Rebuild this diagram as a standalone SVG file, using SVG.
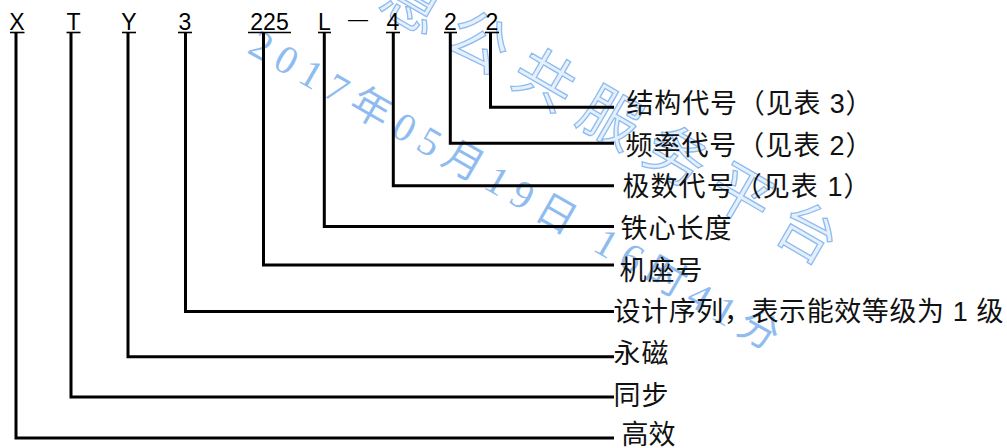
<svg xmlns="http://www.w3.org/2000/svg" width="1007" height="448" viewBox="0 0 1007 448">
<style>
.code{font-family:"Liberation Sans","Noto Sans CJK SC",sans-serif;font-size:23px;fill:#000;text-anchor:middle}
.lbl{font-family:"Liberation Sans","Noto Sans CJK SC",sans-serif;font-size:27px;fill:#111}
.ul{stroke:#000;stroke-width:1.6;fill:none}
.conn path{stroke:#000;stroke-width:3;fill:none;stroke-linejoin:miter;stroke-linecap:butt}
.wm1{font-family:"Noto Sans CJK SC",sans-serif;font-size:60px;letter-spacing:16px;fill:#e6f0fc;stroke:#8dbbf0;stroke-width:1.3}
.wm2{font-family:"Liberation Serif","Noto Sans CJK SC",serif;font-size:40px;letter-spacing:9px;fill:#8fbcf0}
</style>
<rect width="1007" height="448" fill="#fff"/>
<g id="watermark">
<text class="wm1" transform="translate(376.8,6.6) rotate(30.2)">息公共服务平台</text>
<text class="wm2" transform="translate(246,52) rotate(29.8)" xml:space="preserve">2017年05月19日 16时41分</text>
</g>
<g id="connectors" class="conn">
<path d="M490.5,32 V107.3 H614"/>
<path d="M450.3,32 V143.3 H614"/>
<path d="M393.3,32 V185.8 H614"/>
<path d="M324.3,32 V226.5 H614"/>
<path d="M263.5,32 V265 H614"/>
<path d="M185.5,32 V311.5 H614"/>
<path d="M128,32 V356.8 H614"/>
<path d="M71,32 V397 H614"/>
<path d="M16,32 V438 H614"/>
</g>
<g id="code-X"><text class="code" x="17" y="30">X</text><line class="ul" x1="10" y1="32.5" x2="24.5" y2="32.5"/></g>
<g id="code-T"><text class="code" x="73.5" y="30">T</text><line class="ul" x1="66.5" y1="32.5" x2="80.5" y2="32.5"/></g>
<g id="code-Y"><text class="code" x="129" y="30">Y</text><line class="ul" x1="122" y1="32.5" x2="136" y2="32.5"/></g>
<g id="code-3"><text class="code" x="185" y="30">3</text><line class="ul" x1="178" y1="32.5" x2="192" y2="32.5"/></g>
<g id="code-225"><text class="code" x="269.5" y="30">225</text><line class="ul" x1="248" y1="32.5" x2="291" y2="32.5"/></g>
<g id="code-L"><text class="code" x="324.5" y="30">L</text><line class="ul" x1="318" y1="32.5" x2="331" y2="32.5"/></g>
<g id="code-dash"><text class="code" x="358" y="25.5" style="font-size:20px">—</text></g>
<g id="code-4"><text class="code" x="393" y="30">4</text><line class="ul" x1="386" y1="32.5" x2="400" y2="32.5"/></g>
<g id="code-2a"><text class="code" x="450.5" y="30">2</text><line class="ul" x1="444" y1="32.5" x2="457" y2="32.5"/></g>
<g id="code-2b"><text class="code" x="492" y="30">2</text><line class="ul" x1="485" y1="32.5" x2="499" y2="32.5"/></g>
<g id="label-structure"><text class="lbl" x="626.5" y="113" textLength="246" lengthAdjust="spacing">结构代号（见表 3）</text></g>
<g id="label-frequency"><text class="lbl" x="625.5" y="155" textLength="247" lengthAdjust="spacing">频率代号（见表 2）</text></g>
<g id="label-poles"><text class="lbl" x="622.5" y="196" textLength="248" lengthAdjust="spacing">极数代号（见表 1）</text></g>
<g id="label-core"><text class="lbl" x="620.5" y="238" textLength="111" lengthAdjust="spacing">铁心长度</text></g>
<g id="label-frame"><text class="lbl" x="619.5" y="280" textLength="83" lengthAdjust="spacing">机座号</text></g>
<g id="label-design"><text class="lbl" x="613.5" y="321" textLength="390" lengthAdjust="spacing">设计序列，表示能效等级为 1 级</text></g>
<g id="label-pm"><text class="lbl" x="613.5" y="363" textLength="55" lengthAdjust="spacing">永磁</text></g>
<g id="label-sync"><text class="lbl" x="613.5" y="405" textLength="55" lengthAdjust="spacing">同步</text></g>
<g id="label-eff"><text class="lbl" x="621.5" y="444" textLength="54" lengthAdjust="spacing">高效</text></g>
</svg>
